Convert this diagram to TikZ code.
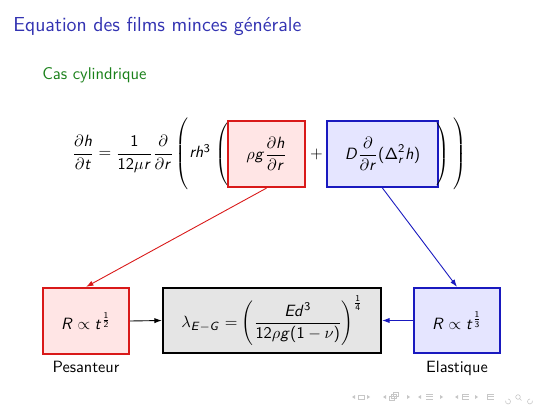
\documentclass[tikz,border=0pt,11pt]{standalone}
\usetikzlibrary{arrows.meta}
\DeclareSymbolFont{sfletters}{OT1}{cmss}{m}{sl}
\SetSymbolFont{operators}{normal}{OT1}{cmss}{m}{n}
\makeatletter
\@tfor\lt:=abcdefghijklmnopqrstuvwxyzABCDEFGHIJKLMNOPQRSTUVWXYZ\do{%
  \edef\tmp{\noexpand\DeclareMathSymbol{\lt}{\noexpand\mathalpha}{sfletters}{`\lt}}\tmp}
\makeatother
\renewcommand\familydefault{\sfdefault}
\newlength\px
\setlength\px{0.6719pt}
\definecolor{titleblue}{rgb}{0.2,0.2,0.7}
\definecolor{darkgreen}{rgb}{0.1,0.5,0.1}
\definecolor{boxred}{rgb}{0.85,0.1,0.1}
\definecolor{boxblue}{rgb}{0.1,0.1,0.75}
\newcommand\bigdelim[2]{$\left#1\vcenter{\hbox{\rule{0pt}{#2}}}\right.$}
\newcommand\bigdelimr[2]{$\left.\vcenter{\hbox{\rule{0pt}{#2}}}\right#1$}
\begin{document}
\begin{tikzpicture}[x=\px,y=-\px,
  every node/.style={inner sep=0pt,font=\fontsize{10.95}{13}\selectfont},
  redbox/.style={draw=boxred,fill=red!10,line width=1.5pt,minimum height=66\px},
  bluebox/.style={draw=boxblue,fill=blue!10,line width=1.5pt,minimum height=66\px},
  graybox/.style={draw=black,fill=black!10,line width=1.5pt,minimum height=65\px},
  label/.style={anchor=base},
  conn/.style={line width=0.6pt,-{Latex[length=5pt,width=3.5pt]}},
  navsym/.style={fill=black!22,draw=none}]
\useasboundingbox (0,0) rectangle (540,406);
% title and subtitle
\node[anchor=base west,text=titleblue,font=\fontsize{13.6}{16}\selectfont] (title) at (13,32) {Equation des films minces générale};
\node[anchor=base west,text=darkgreen,font=\fontsize{11.4}{14}\selectfont] (sub) at (42,80) {Cas cylindrique};
% equation
\node[anchor=base west] (lhs) at (72,158) {$\displaystyle\frac{\partial h}{\partial t}=\frac{1}{12\mu r}\frac{\partial}{\partial r}$};
\node (po) at (182.5,154) {\bigdelim({48pt}};
\node[anchor=base west] (rh) at (189,158) {$rh^3$};
\node (pi) at (222.5,154) {\bigdelim({44pt}};
\node[redbox,minimum width=77\px] (grav) at (266.5,154) {$\displaystyle\rho g\frac{\partial h}{\partial r}$};
\node (plus) at (316.5,154) {$+$};
\node[bluebox,minimum width=111\px] (elas) at (382.5,154) {$\displaystyle D\frac{\partial}{\partial r}(\Delta_r^2 h)$};
\node (qi) at (442.5,154) {\bigdelimr){44pt}};
\node (qo) at (459.5,154) {\bigdelimr){48pt}};
% bottom boxes
\node[redbox,minimum width=86\px] (pes) at (86,321) {$R\propto t^{\frac{1}{2}}$};
\node[graybox,minimum width=218\px] (lam) at (272,320.5) {$\displaystyle\lambda_{E-G}=\left(\frac{Ed^3}{12\rho g(1-\nu)}\right)^{\frac{1}{4}}$};
\node[bluebox,minimum width=86\px,minimum height=65\px] (ela) at (457,320.5) {$R\propto t^{\frac{1}{3}}$};
\node[label] (pesl) at (86,372) {Pesanteur};
\node[label] (elal) at (457,372) {Elastique};
% connectors
\draw[conn,boxred] (grav.south) -- (pes.north);
\draw[conn,boxblue] (elas.south) -- (ela.north);
\draw[conn,black] (pes.east) -- (lam.west);
\draw[conn,boxblue] (ela.west) -- (lam.east);
% navigation symbols
\foreach \a/\b in {352/370, 383/410, 418/443, 455/478}{
  \fill[navsym] (\a,397) -- (\a+3,395) -- (\a+3,399) -- cycle;
  \fill[navsym] (\b,397) -- (\b-3,395) -- (\b-3,399) -- cycle;
}
\draw[black!22,line width=0.4pt] (358,395) rectangle (364,399);
\draw[black!22,line width=0.4pt] (389,396) rectangle (394,400) (391,394) rectangle (396,398) (393,392) rectangle (398,396);
\draw[black!22,line width=0.4pt] (426,394) -- (433,394) (426,396.5) -- (433,396.5) (426,399) -- (433,399);
\draw[black!22,line width=0.4pt] (462,394) -- (469,394) (462,396.5) -- (469,396.5) (462,399) -- (469,399) (462,394) -- (462,399);
\draw[black!22,line width=0.4pt] (487,394) -- (494,394) (487,396.5) -- (494,396.5) (487,399) -- (494,399) (487,394) -- (487,399);
\draw[black!22,line width=0.4pt] (508,399) arc (-90:200:2.5);
\draw[black!22,line width=0.4pt] (518,397) circle (2.3) (519.6,398.6) -- (521.5,400.5);
\draw[black!22,line width=0.4pt] (530,399) arc (270:-20:2.5);
\end{tikzpicture}
\end{document}
